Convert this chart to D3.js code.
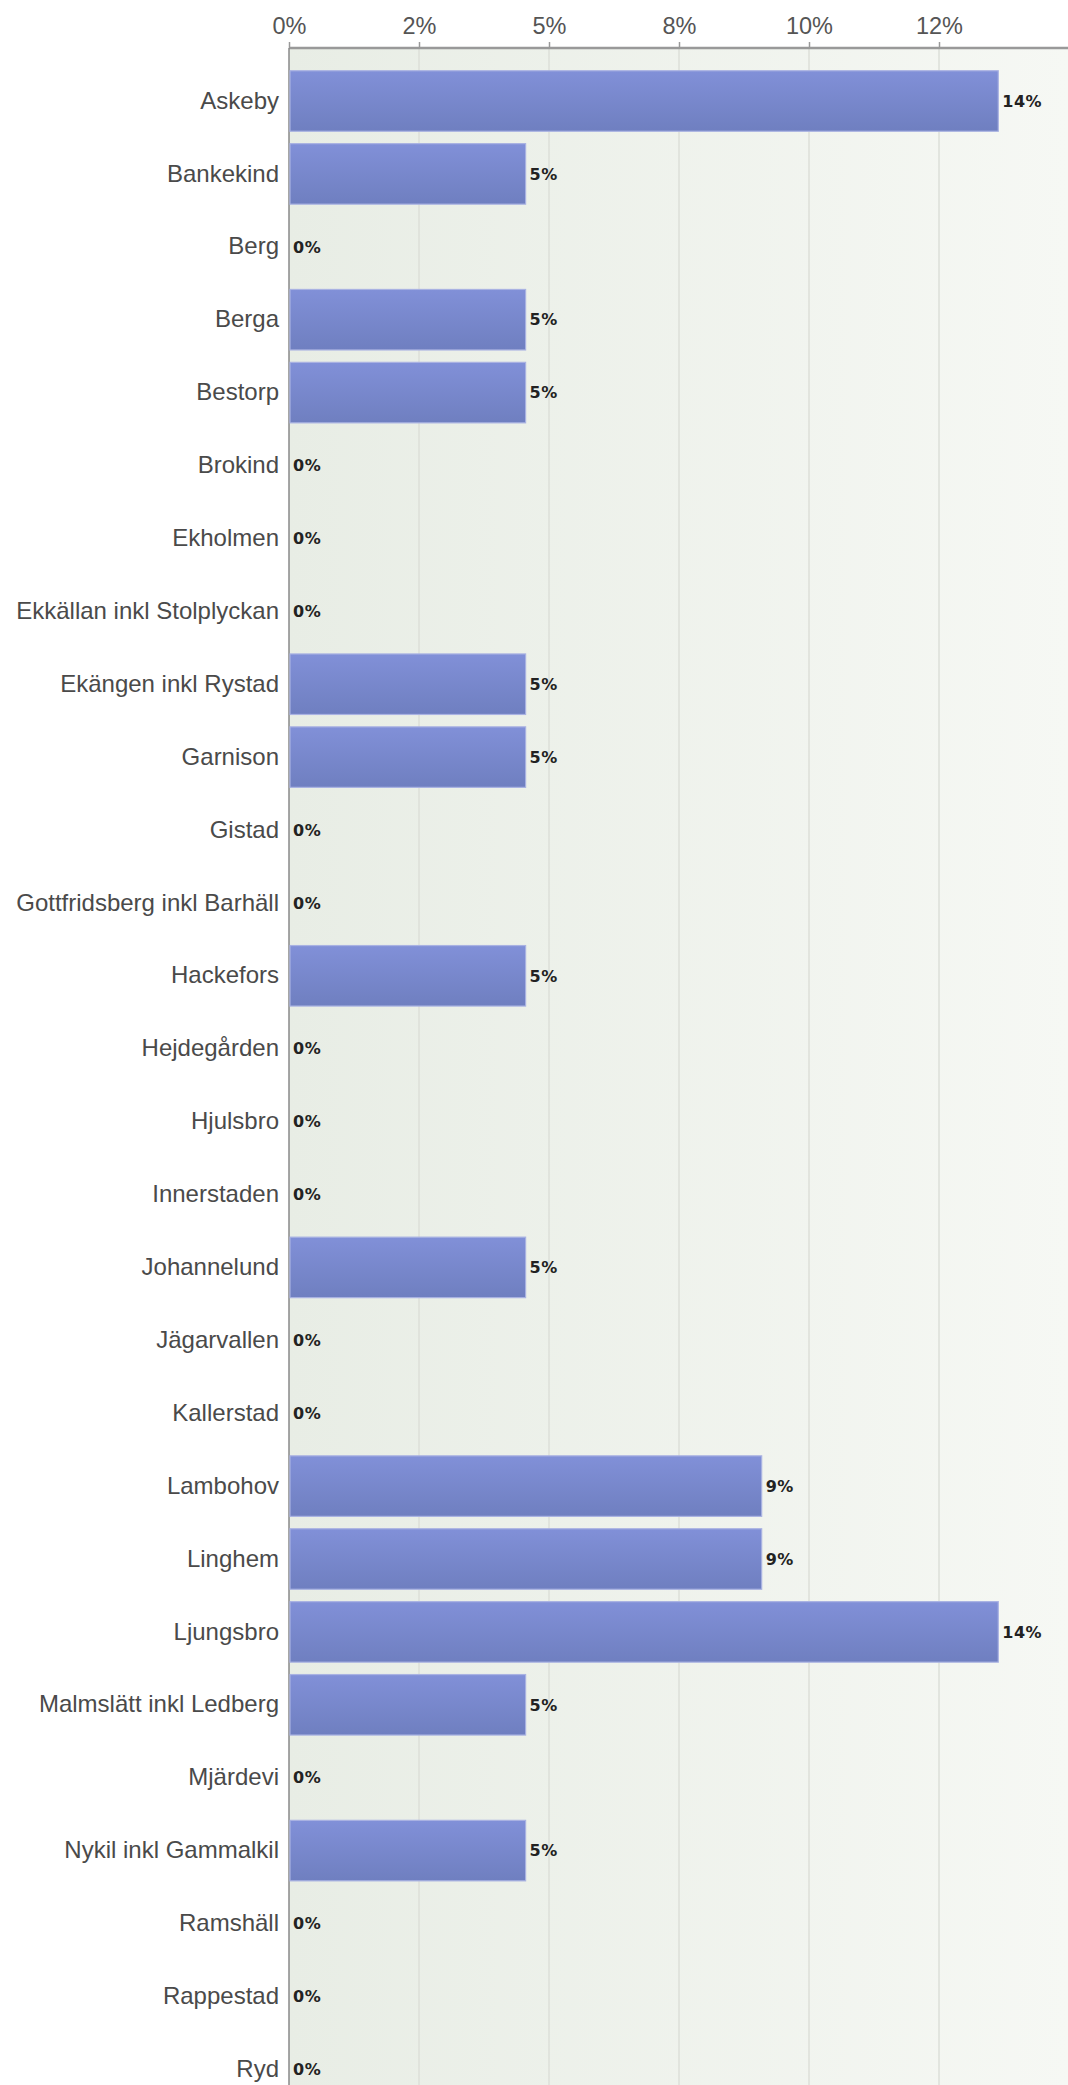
<!DOCTYPE html>
<html><head><meta charset="utf-8">
<script src="https://cdn.jsdelivr.net/npm/d3@7"></script>
<style>body{margin:0;background:#fff;} svg{display:block;}</style>
</head><body>
<svg id="chart" width="1068" height="2085"></svg>
<script>
const categories = ["Askeby","Bankekind","Berg","Berga","Bestorp","Brokind","Ekholmen","Ekkällan inkl Stolplyckan","Ekängen inkl Rystad","Garnison","Gistad","Gottfridsberg inkl Barhäll","Hackefors","Hejdegården","Hjulsbro","Innerstaden","Johannelund","Jägarvallen","Kallerstad","Lambohov","Linghem","Ljungsbro","Malmslätt inkl Ledberg","Mjärdevi","Nykil inkl Gammalkil","Ramshäll","Rappestad","Ryd"];
const values = [13.64,4.55,0,4.55,4.55,0,0,0,4.55,4.55,0,0,4.55,0,0,0,4.55,0,0,9.09,9.09,13.64,4.55,0,4.55,0,0,0];
const valueLabels = ["14%","5%","0%","5%","5%","0%","0%","0%","5%","5%","0%","0%","5%","0%","0%","0%","5%","0%","0%","9%","9%","14%","5%","0%","5%","0%","0%","0%"];
const tickValues = [0,2.5,5,7.5,10,12.5];
const tickLabels = ["0%","2%","5%","8%","10%","12%"];

const svg = d3.select("#chart");
const W = 1068, H = 2085;
const mLeft = 289, mTop = 48;
const step = 72.9, firstCenter = 101;

const x = d3.scaleLinear().domain([0, 1]).range([mLeft, mLeft + 52]);
const y = d3.scaleBand().domain(categories)
  .range([firstCenter - step/2, firstCenter - step/2 + step*categories.length])
  .paddingInner(0.17).paddingOuter(0.085);

const defs = svg.append("defs");
const bg = defs.append("linearGradient").attr("id","bg").attr("x1","0").attr("x2","1").attr("y1","0").attr("y2","0");
bg.append("stop").attr("offset","0").attr("stop-color","#e8ede5");
bg.append("stop").attr("offset","1").attr("stop-color","#f6f8f4");
const bar = defs.append("linearGradient").attr("id","bar").attr("x1","0").attr("x2","0").attr("y1","0").attr("y2","1");
bar.append("stop").attr("offset","0").attr("stop-color","#8190d8");
bar.append("stop").attr("offset","1").attr("stop-color","#6f7fc0");

svg.append("rect").attr("x", mLeft).attr("y", mTop).attr("width", W-mLeft).attr("height", H-mTop).attr("fill","url(#bg)");

// gridlines
svg.append("g").selectAll("line").data(tickValues.slice(1)).join("line")
  .attr("x1", d=>x(d)).attr("x2", d=>x(d)).attr("y1", mTop).attr("y2", H)
  .attr("stroke","#dcdfd9").attr("stroke-width",1.5);

// top axis
const xAxis = d3.axisTop(x).tickValues(tickValues).tickFormat((d,i)=>tickLabels[i]).tickSize(6).tickPadding(8);
const gx = svg.append("g").attr("transform",`translate(0,${mTop})`).call(xAxis);
gx.select(".domain").remove();
gx.selectAll(".tick line").attr("stroke","#999").attr("stroke-width",1.5);
gx.selectAll(".tick text").attr("font-family","Liberation Sans, Arial, sans-serif").attr("font-size",23.5).attr("fill","#555");
svg.append("line").attr("x1",mLeft).attr("x2",W).attr("y1",mTop).attr("y2",mTop).attr("stroke","#999").attr("stroke-width",2.5);
svg.append("line").attr("x1",mLeft).attr("x2",mLeft).attr("y1",mTop).attr("y2",H).attr("stroke","#888").attr("stroke-width",1.5);

// bars
const barData = categories.map((c,i)=>({c, v: values[i]})).filter(d=>d.v>0);
svg.append("g").selectAll("rect").data(barData).join("rect")
  .attr("x", mLeft+1).attr("y", d=>y(d.c))
  .attr("width", d=>x(d.v)-mLeft-1)
  .attr("height", y.bandwidth())
  .attr("fill","url(#bar)").attr("stroke","#a9b2e2").attr("stroke-width",1.2);

// value labels
svg.append("g").selectAll("text").data(categories).join("text")
  .attr("x", (d,i)=>x(values[i])+4)
  .attr("y", d=>y(d)+y.bandwidth()/2)
  .attr("dy","0.36em")
  .attr("font-family","DejaVu Sans, Verdana, sans-serif").attr("font-weight","bold")
  .attr("font-size",16).attr("letter-spacing",0.5).attr("fill","#222")
  .text((d,i)=>valueLabels[i]);

// category labels
const yAxis = d3.axisLeft(y).tickSize(0).tickPadding(10);
const gy = svg.append("g").attr("transform",`translate(${mLeft},0)`).call(yAxis);
gy.select(".domain").remove();
gy.selectAll(".tick text").attr("font-family","Liberation Sans, Arial, sans-serif").attr("font-size",24).attr("fill","#4a4a4a");
</script>
</body></html>
